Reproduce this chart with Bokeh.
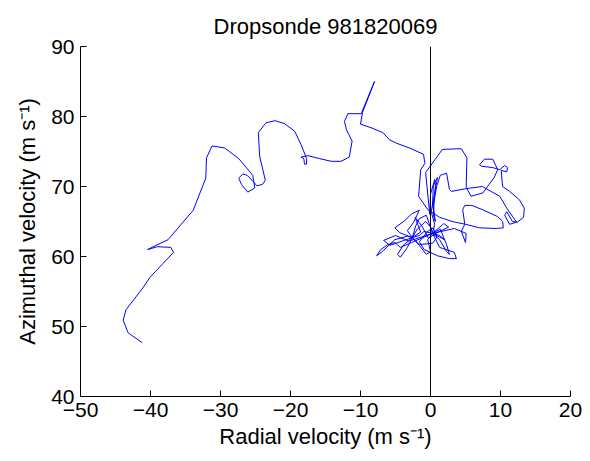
from bokeh.plotting import figure
from bokeh.embed import file_html
from bokeh.resources import INLINE
from bokeh.models import FixedTicker

# Dropsonde 981820069 trace
radial = [
    -41.2, -43.2, -43.9, -43.5, -41.1, -40.1, -36.7, -37.1, -39.0, -40.4,
    -39.2, -37.5, -33.9, -32.1, -32.0, -31.2, -29.4, -27.4, -25.4, -25.1,
    -26.1, -27.0, -27.4, -26.8, -26.2, -25.4, -24.8, -24.0, -23.6, -24.4,
    -24.6, -23.5, -22.2, -20.9, -19.4, -18.5, -17.7, -17.7, -18.0, -18.1,
    -18.5, -17.5, -15.9, -14.2, -12.8, -11.6, -11.2, -12.0, -12.3, -11.8,
    -9.9, -8.0, -9.7, -10.0, -8.5, -6.8, -5.9, -4.9, -3.0, -1.0,
    -0.8, -1.4, -1.7, -0.4, 1.3, 3.1, 5.0, 7.0, 9.4, 10.4,
    10.3, 9.6, 7.4, 5.9, 4.9, 4.6, 4.9, 4.4, 5.0, 5.1,
    3.4, 0.3, 2.0, 1.3, 0.3, -0.9, -1.6, -2.6, -4.4, -5.1,
    -3.7, -2.7, -1.6, -2.4, -3.3, -2.6, -1.6, 0.3, 0.9, 0.4,
    -0.4, -1.6, -0.9, 1.0, 2.7, 3.7, 3.4, 1.3, 0.3, -2.7,
    -4.3, -5.1, -6.1, -7.1, -7.7, -6.9, -5.1, -3.3, -2.6, -3.9,
    -4.7, -4.3, -3.3, -2.6, -2.1, -1.6, -0.6, 0.3, 0.1, -0.7,
    -1.9, -2.6, -1.6, -0.6, 0.0, -0.4, 0.3, 1.4, 2.3, 2.7,
    2.3, 1.3, 0.3,
    1.9, 2.6, 1.1, -0.3, -1.2, -2.2, -1.4, -2.6, -5.8, -6.7, -5.0, -3.1, 0.3,
    0.6, 0.1, 0.9, 1.0, 0.4, 0.3, 0.7,
    0.4, 0.7, 0.6, 0.0, -0.1, -0.7, 1.7, 4.4, 5.2, 5.1,
    5.8, 7.5, 9.1, 9.6, 8.9, 7.7, 7.0, 7.3, 8.9, 9.9,
    10.6, 11.0, 10.9, 10.1, 10.3, 11.3, 12.7, 13.4, 13.3, 12.4,
    11.7, 10.9, 10.6, 11.3, 12.3, 10.9, 9.9, 7.4, 5.1, 3.0,
    2.7, 2.3, 1.4, 0.9, 0.4, 0.6,
]
azimuthal = [
    47.7, 49.1, 50.9, 52.4, 55.5, 57.0, 60.6, 61.3, 61.4, 61.0,
    61.6, 62.4, 66.6, 71.2, 74.1, 75.8, 75.5, 74.0, 71.6, 69.8,
    69.2, 70.3, 71.2, 71.8, 71.6, 70.8, 70.1, 70.3, 70.9, 74.3,
    77.7, 79.1, 79.4, 79.0, 77.9, 76.0, 74.0, 73.2, 73.2, 74.0,
    74.2, 74.4, 74.0, 73.6, 73.6, 74.2, 76.5, 78.1, 79.3, 80.4,
    80.4, 85.0, 80.6, 78.9, 78.4, 77.7, 76.7, 76.2, 75.5, 74.6,
    73.3, 72.4, 68.6, 66.7, 65.6, 65.0, 64.6, 64.1, 64.0, 64.1,
    65.0, 65.7, 66.7, 67.3, 67.3, 66.7, 64.6, 63.6, 62.0, 63.3,
    64.0, 63.3, 62.4, 63.0, 63.3, 63.6, 63.0, 62.7, 63.4, 64.1,
    65.1, 66.1, 66.6, 64.9, 63.7, 62.7, 61.7, 61.9, 62.7, 64.1,
    63.6, 62.1, 61.0, 60.1, 59.7, 59.7, 60.6, 61.3, 63.3, 62.0,
    61.3, 62.0, 61.7, 61.0, 60.1, 60.7, 62.4, 62.9, 62.7, 61.6,
    60.3, 59.9, 61.3, 62.7, 64.4, 65.4, 65.9, 63.3, 64.1, 65.0,
    63.9, 62.7, 61.6, 60.3, 60.7, 62.4, 63.3, 63.9, 61.7, 60.3,
    60.7, 62.4, 63.3,
    64.7, 64.2, 63.5, 62.6, 64.3, 65.6, 63.5, 62.7, 61.6, 62.3, 63.0, 62.2, 63.3,
    64.6, 66.4, 70.7, 71.3, 70.1, 67.4, 65.0,
    66.0, 70.1, 71.0, 68.9, 66.0, 72.0, 75.3, 75.4, 74.1, 69.9,
    68.6, 69.1, 71.3, 72.4, 73.9, 73.9, 73.1, 72.9, 72.7, 72.4,
    73.0, 72.7, 72.1, 72.3, 70.0, 69.3, 68.1, 66.9, 65.6, 64.9,
    65.0, 66.4, 65.9, 64.6, 64.9, 66.9, 68.6, 70.0, 69.7, 69.3,
    69.6, 71.9, 71.6, 70.1, 67.4, 65.2,
]

zero_x = [0, 0]
zero_y = [40, 90]

x_ticks = [-50, -40, -30, -20, -10, 0, 10, 20]
y_ticks = [40, 50, 60, 70, 80, 90]

FONT = "Liberation Sans"
FS = "21px"
LFS = "22px"

p = figure(width=582, height=453, x_range=(-50, 20), y_range=(40, 90),
           output_backend="svg", toolbar_location=None,
           title="Dropsonde 981820069",
           min_border_left=80, min_border_right=12,
           min_border_top=46, min_border_bottom=57)
p.outline_line_color = None
p.xgrid.visible = False
p.ygrid.visible = False
p.background_fill_color = "white"
p.border_fill_color = "white"

p.title.align = "center"
p.title.text_font = FONT
p.title.text_font_size = "22px"
p.title.text_font_style = "normal"
p.title.text_color = "black"
p.title.standoff = 16

p.line(radial, azimuthal, line_color="#0000ff", line_width=1)
p.line(zero_x, zero_y, line_color="black", line_width=1)

for ax, ticks in ((p.xaxis[0], x_ticks), (p.yaxis[0], y_ticks)):
    ax.ticker = FixedTicker(ticks=ticks)
    ax.major_label_overrides = {t: (str(t).replace("-", "\u2212")) for t in ticks}
    ax.minor_tick_line_color = None
    ax.major_tick_in = 6
    ax.major_tick_out = 0
    ax.axis_line_color = "black"
    ax.major_tick_line_color = "black"
    ax.major_label_text_font = FONT
    ax.major_label_text_font_size = FS
    ax.major_label_text_color = "black"
    ax.axis_label_text_font = FONT
    ax.axis_label_text_font_size = LFS
    ax.axis_label_text_font_style = "normal"
    ax.axis_label_text_color = "black"

p.xaxis.axis_label = "Radial velocity (m s\u207b\u00b9)"
p.yaxis.axis_label = "Azimuthal velocity (m s\u207b\u00b9)"
p.xaxis.major_label_standoff = 6
p.yaxis.major_label_standoff = 6
p.xaxis.axis_label_standoff = 4
p.yaxis.axis_label_standoff = 8

open("out.html", "w").write(file_html(p, INLINE))
